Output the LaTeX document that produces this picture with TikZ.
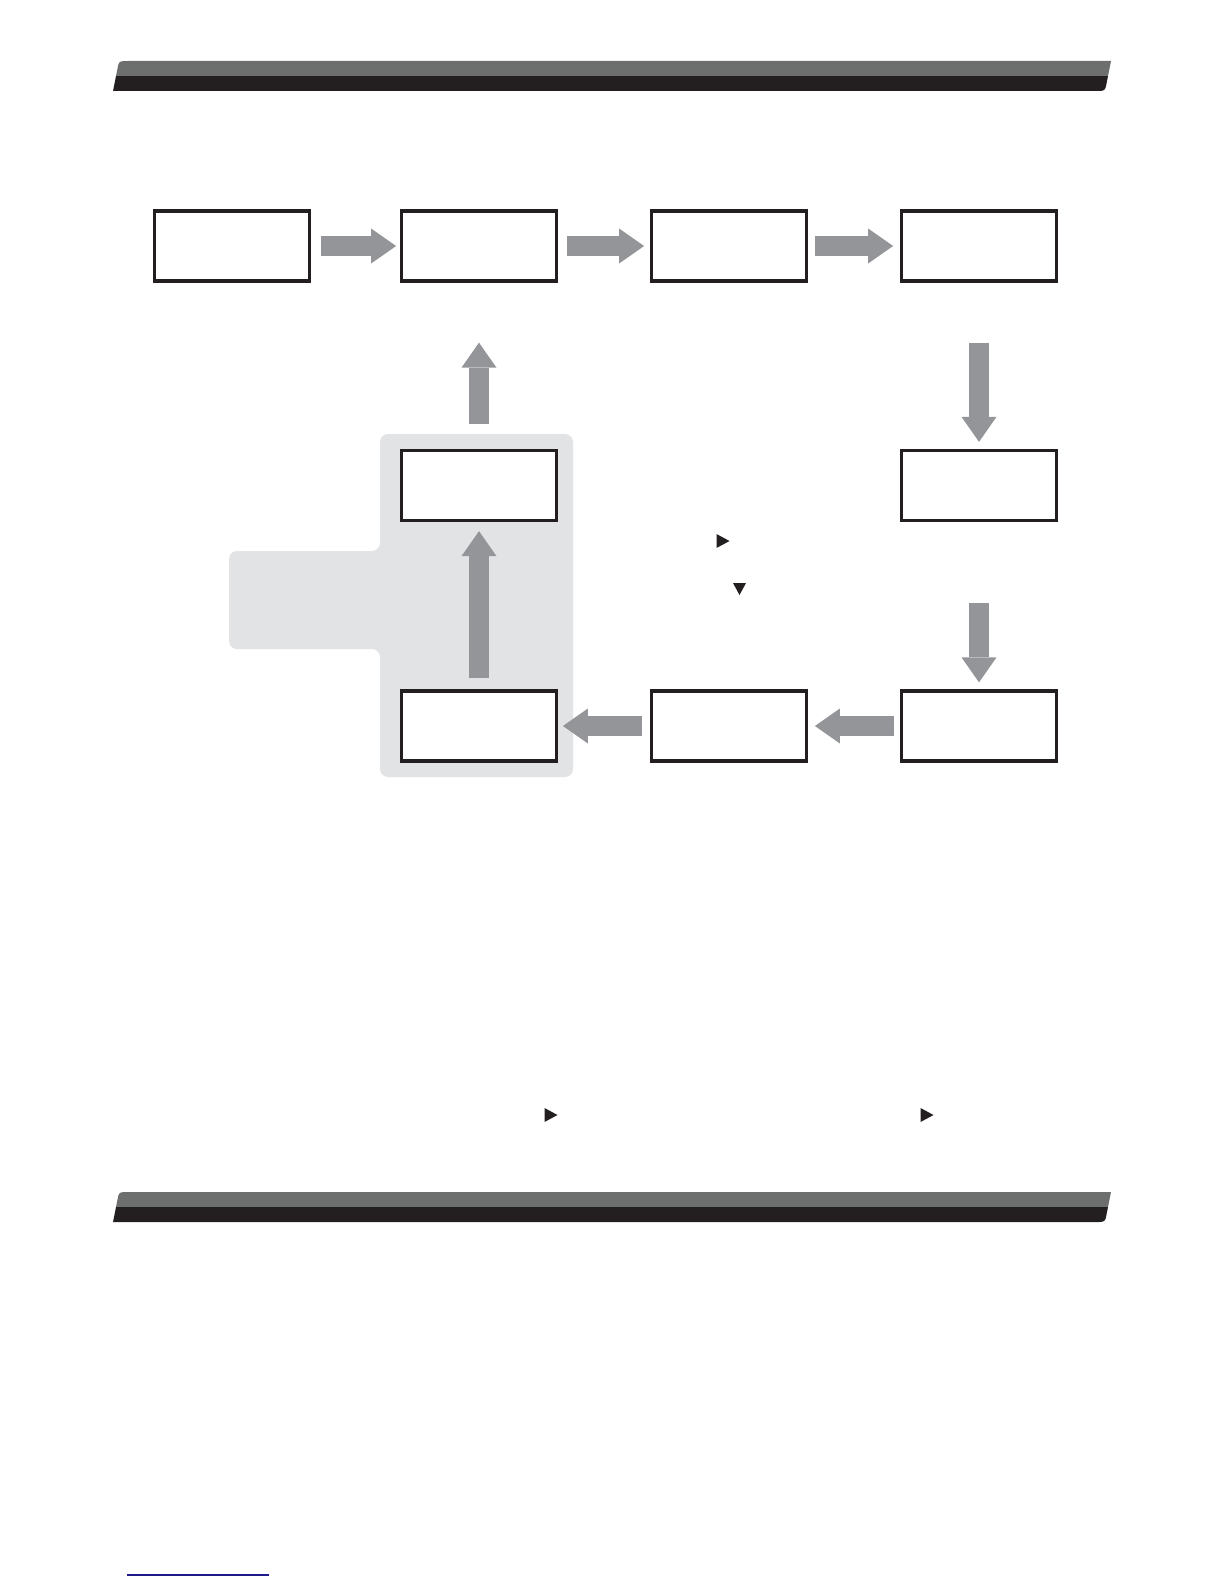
\documentclass[tikz,border=0pt]{standalone}
\usepackage{tikz}
\usetikzlibrary{positioning,calc,arrows.meta}
\definecolor{arrgray}{HTML}{939598}
\definecolor{panelgray}{HTML}{E2E3E5}
\definecolor{bandgray}{HTML}{6D6F6E}
\definecolor{banddark}{HTML}{231F20}
\definecolor{linkblue}{HTML}{1F1A8A}

\begin{document}
\begin{tikzpicture}[x=1pt,y=-1pt,
  box/.style={rectangle,draw=banddark,line width=3.3pt,fill=white,minimum width=154.5pt,minimum height=70pt,inner sep=0pt},
  fatarr/.style={draw=arrgray,line width=20.5pt,-{Triangle[length=25pt,width=35pt,line width=0pt]}}]
\useasboundingbox (0,0) rectangle (1224,1584);
% title bands
\foreach \yy in {0,1131}{
  \begin{scope}[shift={(0,\yy)}]
    \clip (113,91) -- (117.6,68) .. controls (119,61) .. (128,61) -- (1111,61) -- (1106.4,84) .. controls (1105,91) .. (1096,91) -- cycle;
    \fill[bandgray] (100,55) rectangle (1120,76);
    \fill[banddark] (100,76) rectangle (1120,95);
  \end{scope}}
% grey panel
\fill[panelgray,rounded corners=8pt] (380,434) -- (573,434) -- (573,777) -- (380,777) -- (380,649) -- (229,649) -- (229,551) -- (380,551) -- cycle;
% boxes
\node[box] (A) at (232,246) {};
\node[box] (B) at (479,246) {};
\node[box] (C) at (729,246) {};
\node[box] (D) at (979,246) {};
\node[box] (E) at (979,485.5) {};
\node[box] (F) at (979,726) {};
\node[box] (G) at (729,726) {};
\node[box] (H) at (479,726) {};
\node[box] (I) at (479,485.5) {};
% arrows
\draw[fatarr,shorten <=10pt,shorten >=4pt] (A.east) -- (B.west);
\draw[fatarr,shorten <=9pt,shorten >=6pt] (B.east) -- (C.west);
\draw[fatarr,shorten <=7pt,shorten >=7pt] (C.east) -- (D.west);
\draw[fatarr,shorten <=60pt,shorten >=7pt] (D.south) -- (E.north);
\draw[fatarr,shorten <=81pt,shorten >=7pt] (E.south) -- (F.north);
\draw[fatarr,shorten <=6pt,shorten >=7pt] (F.west) -- (G.east);
\draw[fatarr,shorten <=8pt,shorten >=5pt] (G.west) -- (H.east);
\draw[fatarr,shorten <=11pt,shorten >=9pt] (H.north) -- (I.south);
\draw[fatarr,shorten <=25pt,shorten >=60pt] (I.north) -- (B.south);
% small markers
\foreach \px/\py in {723/541,551/1115,927/1115}
  \fill[banddark] (\px-6.5,\py-7) -- (\px+6.5,\py) -- (\px-6.5,\py+7) -- cycle;
\fill[banddark] (733,583) -- (746,583) -- (739.5,595) -- cycle;
\draw[linkblue,line width=1.3pt] (127,1575) -- (269,1575);
\end{tikzpicture}
\end{document}
